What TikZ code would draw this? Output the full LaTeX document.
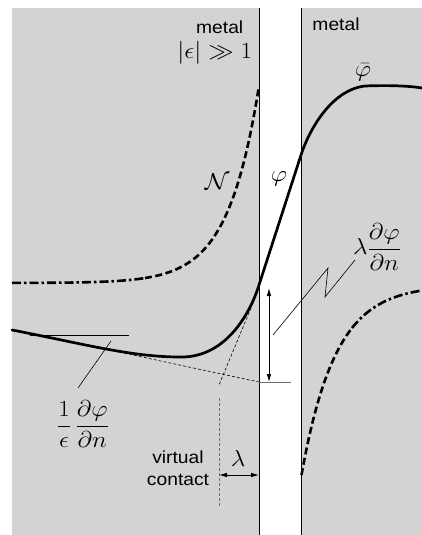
\RequirePackage{fix-cm}
\documentclass[tikz,border=0pt]{standalone}
\usepackage{amsmath}
\usepackage{graphicx}
\usepackage{fontspec}
\newfontfamily\helv{Liberation Sans}
\usetikzlibrary{arrows.meta}
\definecolor{metalgray}{RGB}{211,211,211}
\definecolor{guidegray}{RGB}{110,110,110}
\newcommand\hstretch[1]{\scalebox{1.1}[1]{#1}}
\begin{document}
\begin{tikzpicture}[x=1pt,y=-1pt,
  txt/.style={font=\fontsize{17.5}{21}\selectfont\helv, inner sep=0pt},
  mth/.style={font=\fontsize{23}{27}\selectfont, inner sep=0pt},
  border/.style={line width=0.8pt, black},
  phicurve/.style={line width=2.7pt, line cap=round},
  dashdotcurve/.style={line width=2.6pt, dash pattern=on 9pt off 3pt on 2.5pt off 3pt},
  dashcurve/.style={line width=2.6pt, dash pattern=on 7pt off 3.5pt},
  guide/.style={line width=0.6pt, black},
  tangent/.style={line width=0.6pt, black, dash pattern=on 3pt off 2pt},
  dbl/.style={line width=0.8pt, {Latex[length=8pt,width=4.5pt]}-{Latex[length=8pt,width=4.5pt]}}
]
\useasboundingbox (0,0) rectangle (422,535);
% metal regions
\fill[metalgray] (12,8) rectangle (259,535);
\fill[metalgray] (301,8) rectangle (422,535);
\coordinate (lt) at (259,8);
\coordinate (lb) at (259,535);
\coordinate (rt) at (301,8);
\coordinate (rb) at (301,535);
\draw[border] (lt) -- (lb);
\draw[border] (rt) -- (rb);

% curve N (left)
\draw[dashdotcurve] plot[domain=12:145, samples=60] (\x, {283-191*exp((\x-258)/31)});
\draw[dashcurve] plot[domain=145:258.5, samples=80] (\x, {283-191*exp((\x-258)/31)});

% right dashed curve
\draw[dashcurve] plot[domain=301.5:352, samples=60] (\x, {285+190*exp(-(\x-301.5)/34)});
\draw[dashdotcurve] plot[domain=352:422, samples=60] (\x, {285+190*exp(-(\x-301.5)/34)});

% tangent guides
\coordinate (ta1) at (100,348);
\coordinate (ta2) at (259,382);
\coordinate (ta3) at (291,382);
\draw[tangent] (ta1) -- (ta2);
\draw[guidegray, line width=0.8pt] (ta2) -- (ta3);
\coordinate (tb1) at (253,303);
\coordinate (tb2) at (219,385);
\draw[tangent] (tb1) -- (tb2);
\coordinate (h1) at (30,335);
\coordinate (h2) at (129,335);
\draw[guide] (h1) -- (h2);

% potential phi
\draw[phicurve] (12,330) .. controls (80,343) and (130,357) .. (180,357)
  .. controls (230,358) and (253,305) .. (259,285) -- (301,155)
  .. controls (308,133) and (330,90) .. (365,86)
  .. controls (390,85) and (410,86) .. (422,88);

% virtual contact
\coordinate (vc1) at (219,398);
\coordinate (vc2) at (219,507);
\draw[guidegray, line width=0.7pt, dash pattern=on 3pt off 2pt] (vc1) -- (vc2);
\coordinate (la1) at (219,475);
\coordinate (la2) at (259,475);
\draw[dbl] (la1) -- (la2);
\coordinate (ar1) at (269,288);
\coordinate (ar2) at (269,382);
\draw[dbl] (ar1) -- (ar2);

% labels
\node[txt, anchor=base] (metalL) at (219.7,33.3) {\hstretch{metal}};
\node[mth, anchor=base east] (epsL) at (252.5,58.3) {\hstretch{$|\epsilon|\gg 1$}};
\node[txt, anchor=base] (metalR) at (336,30.7) {\hstretch{metal}};
\node[mth] (phibar) at (363,72) {\hstretch{$\bar\varphi$}};
\node[mth] (phi) at (279,179) {\hstretch{$\varphi$}};
\node[mth] (calN) at (217,182) {\hstretch{$\mathcal{N}$}};
\node[mth] (lamd) at (377,247) {\hstretch{$\lambda\dfrac{\partial\varphi}{\partial n}$}};
\node[mth] (epsd) at (83,424) {\hstretch{$\dfrac{1}{\epsilon}\,\dfrac{\partial\varphi}{\partial n}$}};
\node[txt, anchor=base] (virt) at (178,463) {\hstretch{virtual}};
\node[txt, anchor=base] (cont) at (178,485) {\hstretch{contact}};
\node[mth] (lam) at (238,459) {\hstretch{$\lambda$}};

% leaders
\coordinate (zA) at (273,335);
\coordinate (zB) at (328,268);
\coordinate (zC) at (325,297);
\coordinate (zD) at (355,260);
\draw[guide] (zA) -- (zB) -- (zC) -- (zD);
\coordinate (eA) at (78,388);
\coordinate (eB) at (111,341);
\draw[guide] (eA) -- (eB);
\end{tikzpicture}
\end{document}
